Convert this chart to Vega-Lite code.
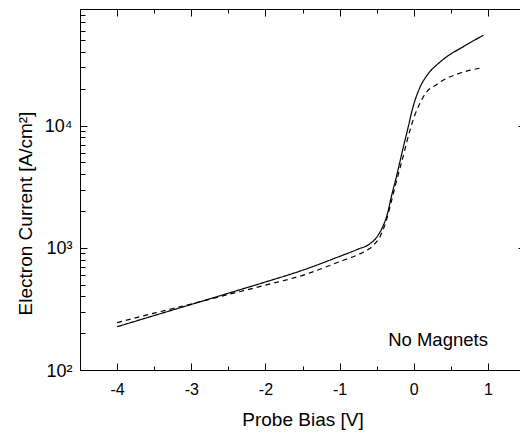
{
  "$schema": "https://vega.github.io/schema/vega-lite/v6.json",
  "autosize": "none",
  "width": 445,
  "height": 361,
  "padding": {"left": 80, "top": 9, "right": 0, "bottom": 64},
  "background": "white",
  "config": {
    "view": {"stroke": null},
    "font": "Liberation Sans",
    "axis": {
      "grid": false,
      "domainColor": "black",
      "domainWidth": 1,
      "tickColor": "black",
      "tickWidth": 1,
      "labelFont": "Liberation Sans",
      "titleFont": "Liberation Sans",
      "labelColor": "black",
      "titleColor": "black",
      "labelFontSize": 16,
      "titleFontSize": 19,
      "titleFontWeight": "normal"
    }
  },
  "datasets": {
    "curves": [
      {"v": -4.0, "j": 226, "s": "solid"},
      {"v": -3.5, "j": 279, "s": "solid"},
      {"v": -3.0, "j": 344, "s": "solid"},
      {"v": -2.5, "j": 425, "s": "solid"},
      {"v": -2.0, "j": 525, "s": "solid"},
      {"v": -1.5, "j": 655, "s": "solid"},
      {"v": -1.0, "j": 850, "s": "solid"},
      {"v": -0.75, "j": 975, "s": "solid"},
      {"v": -0.6, "j": 1070, "s": "solid"},
      {"v": -0.5, "j": 1220, "s": "solid"},
      {"v": -0.42, "j": 1480, "s": "solid"},
      {"v": -0.36, "j": 1850, "s": "solid"},
      {"v": -0.3, "j": 2650, "s": "solid"},
      {"v": -0.23, "j": 3900, "s": "solid"},
      {"v": -0.14, "j": 6700, "s": "solid"},
      {"v": -0.07, "j": 10000, "s": "solid"},
      {"v": -0.02, "j": 13500, "s": "solid"},
      {"v": 0.02, "j": 16300, "s": "solid"},
      {"v": 0.06, "j": 19000, "s": "solid"},
      {"v": 0.1, "j": 21600, "s": "solid"},
      {"v": 0.15, "j": 24300, "s": "solid"},
      {"v": 0.22, "j": 27800, "s": "solid"},
      {"v": 0.3, "j": 31000, "s": "solid"},
      {"v": 0.45, "j": 36800, "s": "solid"},
      {"v": 0.65, "j": 43600, "s": "solid"},
      {"v": 0.94, "j": 55000, "s": "solid"},
      {"v": -4.0, "j": 244, "s": "dashed"},
      {"v": -3.5, "j": 292, "s": "dashed"},
      {"v": -3.0, "j": 347, "s": "dashed"},
      {"v": -2.5, "j": 415, "s": "dashed"},
      {"v": -2.0, "j": 495, "s": "dashed"},
      {"v": -1.5, "j": 595, "s": "dashed"},
      {"v": -1.0, "j": 770, "s": "dashed"},
      {"v": -0.75, "j": 880, "s": "dashed"},
      {"v": -0.62, "j": 965, "s": "dashed"},
      {"v": -0.54, "j": 1054, "s": "dashed"},
      {"v": -0.45, "j": 1250, "s": "dashed"},
      {"v": -0.38, "j": 1600, "s": "dashed"},
      {"v": -0.32, "j": 2170, "s": "dashed"},
      {"v": -0.25, "j": 3200, "s": "dashed"},
      {"v": -0.15, "j": 5400, "s": "dashed"},
      {"v": -0.05, "j": 9200, "s": "dashed"},
      {"v": 0.01, "j": 12000, "s": "dashed"},
      {"v": 0.06, "j": 14200, "s": "dashed"},
      {"v": 0.12, "j": 16800, "s": "dashed"},
      {"v": 0.175, "j": 18900, "s": "dashed"},
      {"v": 0.3, "j": 21500, "s": "dashed"},
      {"v": 0.4, "j": 23600, "s": "dashed"},
      {"v": 0.62, "j": 26800, "s": "dashed"},
      {"v": 0.9, "j": 29600, "s": "dashed"}
    ],
    "note": [
      {"v": 1.0, "j": 175, "label": "No Magnets"}
    ]
  },
  "resolve": {"axis": {"x": "independent", "y": "independent"}},
  "layer": [
    {
      "data": {"name": "curves"},
      "mark": {"type": "line", "color": "black", "strokeWidth": 1.2, "interpolate": "monotone"},
      "encoding": {
        "x": {
          "field": "v", "type": "quantitative",
          "scale": {"domain": [-4.5, 1.5], "nice": false, "zero": false},
          "axis": {
            "orient": "bottom",
            "title": "Probe Bias [V]",
            "values": [-4.5, -4, -3.5, -3, -2.5, -2, -1.5, -1, -0.5, 0, 0.5, 1, 1.5],
            "labelExpr": "datum.value % 1 === 0 ? '' + datum.value : ''",
            "tickSize": {"condition": {"test": "datum.value % 1 !== 0", "value": -4}, "value": -7},
            "labelPadding": 18,
            "labelFlush": false,
            "labelOverlap": false,
            "titleY": 40,
            "titleBaseline": "top"
          }
        },
        "y": {
          "field": "j", "type": "quantitative",
          "scale": {"type": "log", "domain": [100, 90000], "nice": false},
          "axis": {
            "orient": "left",
            "title": "Electron Current [A/cm²]",
            "values": [100, 200, 300, 400, 500, 600, 700, 800, 900, 1000, 2000, 3000, 4000, 5000, 6000, 7000, 8000, 9000, 10000, 20000, 30000, 40000, 50000, 60000, 70000, 80000, 90000],
            "labelExpr": "datum.value === 100 ? '10²' : datum.value === 1000 ? '10³' : datum.value === 10000 ? '10⁴' : ''",
            "labelFontSize": 18,
            "labelOffset": 1,
            "tickSize": {"condition": {"test": "datum.value === 100 || datum.value === 1000 || datum.value === 10000", "value": -7}, "value": -5},
            "labelPadding": 15,
            "labelFlush": false,
            "labelOverlap": false,
            "titleX": -55,
            "titleY": 204,
            "titleAngle": -90,
            "titleAlign": "center",
            "titleBaseline": "middle"
          }
        },
        "strokeDash": {
          "field": "s", "type": "nominal",
          "scale": {"domain": ["solid", "dashed"], "range": [[1, 0], [5, 4]]},
          "legend": null
        }
      }
    },
    {
      "data": {"name": "note"},
      "mark": {"type": "text", "align": "right", "baseline": "middle", "fontSize": 18.5, "font": "Liberation Sans", "color": "black"},
      "encoding": {
        "x": {
          "field": "v", "type": "quantitative",
          "axis": {
            "orient": "top",
            "title": null,
            "values": [-4.5, -4, -3.5, -3, -2.5, -2, -1.5, -1, -0.5, 0, 0.5, 1, 1.5],
            "labels": false,
            "tickSize": {"condition": {"test": "datum.value % 1 !== 0", "value": -4}, "value": -7}
          }
        },
        "y": {
          "field": "j", "type": "quantitative",
          "axis": {
            "orient": "right",
            "title": null,
            "values": [100, 200, 300, 400, 500, 600, 700, 800, 900, 1000, 2000, 3000, 4000, 5000, 6000, 7000, 8000, 9000, 10000, 20000, 30000, 40000, 50000, 60000, 70000, 80000, 90000],
            "labels": false,
            "tickSize": {"condition": {"test": "datum.value === 100 || datum.value === 1000 || datum.value === 10000", "value": -7}, "value": -5}
          }
        },
        "text": {"field": "label"}
      }
    }
  ]
}
